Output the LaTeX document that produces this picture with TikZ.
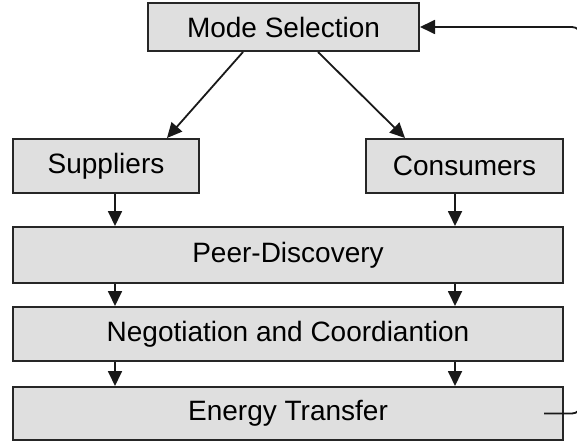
\documentclass[tikz,border=0pt]{standalone}
\usepackage{fontspec}
\setmainfont{Liberation Sans}
\usetikzlibrary{arrows.meta}
\begin{document}
\begin{tikzpicture}[x=1pt,y=-1pt,
  box/.style={draw=black!85, line width=2pt, fill=gray!25, inner sep=0pt,
    font=\fontsize{28}{32}\selectfont},
  arr/.style={-{Triangle[length=15pt,width=14pt]}, line width=1.8pt, draw=black!90}]
\useasboundingbox (0,0) rectangle (577,446);
\clip (0,0) rectangle (577,446);
\node[box, minimum width=271pt, minimum height=48pt] (ms) at (283.5,27) {Mode Selection};
\node[box, minimum width=186pt, minimum height=54pt] (sup) at (106,166) {Suppliers};
\node[box, minimum width=197pt, minimum height=54pt] (con) at (464.5,166) {Consumers};
\node[box, minimum width=550pt, minimum height=56pt] (pd) at (288,255) {Peer-Discovery};
\node[box, minimum width=550pt, minimum height=54pt] (neg) at (288,334) {Negotiation and Coordiantion};
\node[box, minimum width=550pt, minimum height=53pt] (et) at (288,413.5) {Energy Transfer};
\coordinate (L) at (115,0);
\coordinate (R) at (455,0);
\draw[arr] ([xshift=-40.5pt]ms.south) -- ([xshift=61pt]sup.north);
\draw[arr] ([xshift=34.5pt]ms.south) -- ([xshift=-59.5pt]con.north);
\draw[arr] (sup.south -| L) -- (pd.north -| L);
\draw[arr] (con.south -| R) -- (pd.north -| R);
\draw[arr] (pd.south -| L) -- (neg.north -| L);
\draw[arr] (pd.south -| R) -- (neg.north -| R);
\draw[arr] (neg.south -| L) -- (et.north -| L);
\draw[arr] (neg.south -| R) -- (et.north -| R);
\coordinate (fb) at ([xshift=-20pt]et.east);
\draw[arr, rounded corners=9pt] (fb) -- ++(37pt,0) |- (ms.east);
\end{tikzpicture}
\end{document}
